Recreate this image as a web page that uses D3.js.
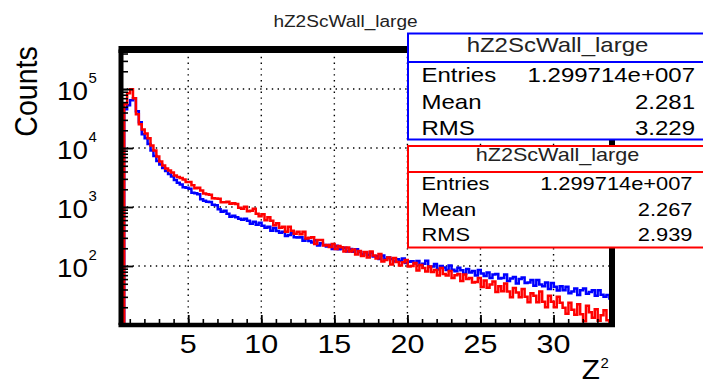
<!DOCTYPE html>
<html>
<head>
<meta charset="utf-8">
<script src="https://cdn.jsdelivr.net/npm/d3@7/dist/d3.min.js"></script>
<style>
  body { margin: 0; background: #fff; }
  svg { display: block; }
  text { font-family: "Liberation Sans", Arial, sans-serif; fill: #000; }
</style>
</head>
<body>
<script>
const width = 703;
const height = 384;

// histogram binning along Z^2
const binStart = 0.62;
const binWidth = 0.2;

// counts per bin
const countsBlue = [
  45500, 53200, 64700, 70000, 42000, 27300, 17060, 14580, 11750, 9100,
  7330, 6030, 5260, 4580, 4070, 3620, 3280, 2860, 2590, 2400,
  2170, 2130, 2050, 1750, 1720, 1650, 1360, 1280, 1230, 1220,
  1095, 1073, 917, 832, 865, 769, 684, 711, 670, 632,
  608, 630, 584, 520, 562, 499, 540, 480, 444, 462,
  395, 440, 392, 365, 380, 324, 337, 358, 306, 304,
  308, 267, 288, 265, 251, 272, 223, 242, 228, 215,
  226, 195, 221, 193, 199, 203, 177, 195, 175, 193,
  173, 157, 171, 154, 170, 145, 148, 132, 151, 131,
  140, 132, 119, 130, 122, 134, 112, 118, 121, 110,
  122, 104, 109, 123, 96, 98, 108, 87.2, 100, 94.3,
  85.5, 102, 86, 81.2, 93.2, 84.8, 74.2, 88.9, 77.5, 82.2,
  68.9, 85.5, 74.5, 67.6, 77.5, 62.5, 71.7, 73.1, 61.2, 62.5,
  71.7, 55.5, 61.2, 65, 50.3, 60, 63.7, 51.3, 52.4, 57.7,
  46.5, 57.7, 48.4, 45.6, 52.4, 40.6, 51.3, 44.7, 38.3, 45.6,
  39, 44.7, 34.7, 36.8, 41.4, 32.1, 39, 41.4, 34, 36.1,
  39, 31.4, 39, 32.7, 30.2, 32.1, 28
];
const countsRed = [
  55300, 85100, 99600, 70000, 37300, 25200, 20700, 17700, 14600, 11070,
  9100, 7190, 5910, 5060, 4490, 4150, 3840, 3410, 3220, 3100,
  2920, 2650, 2650, 2350, 2090, 2130, 1900, 1690, 1650, 1620,
  1410, 1400, 1380, 1210, 1200, 1230, 1140, 1160, 1130, 973,
  935, 1012, 848, 865, 935, 769, 697, 754, 596, 670,
  584, 490, 530, 444, 462, 380, 462, 395, 351, 380,
  344, 380, 294, 300, 306, 237, 277, 275, 223, 228,
  211, 237, 195, 219, 207, 177, 205, 176, 191, 157,
  180, 148, 173, 140, 177, 151, 134, 160, 119, 126,
  140, 106, 137, 117, 102, 116, 126, 98, 100, 112,
  83.8, 104, 92.4, 80.6, 98, 79, 85.5, 68.9, 92.4, 73.1,
  69, 82.2, 62.5, 70, 73, 55.5, 71.7, 60, 62.5, 52.4,
  53.4, 62.5, 43.9, 56.6, 43, 48.4, 54.5, 36.1, 45.6, 37.5,
  50.3, 36.8, 29.6, 42.2, 35.4, 29.6, 40.6, 30.2, 24.4, 34.7,
  31.4, 24.4, 36.8, 24.8, 20, 31.4, 24.8, 20, 30.2, 23.9,
  19.6, 15.5, 23.9, 18.2, 14.9, 22.5, 15.2, 11.6, 21.2, 16.4,
  13.3, 18.5, 11.8, 14.6, 17.8, 12, 11.1
];

const xTicks = [5, 10, 15, 20, 25, 30];
const yDecades = [100, 1000, 10000, 100000];
const yExponents = ["2", "3", "4", "5"];

const histName = "hZ2ScWall_large";
const statLabels = ["Entries", "Mean", "RMS"];
const statsBlue = ["1.299714e+007", "2.281", "3.229"];
const statsRed = ["1.299714e+007", "2.267", "2.939"];

const plot = { left: 121, right: 612, top: 49.5, bottom: 325 };

const svg = d3.select("body")
  .append("svg")
  .attr("width", width)
  .attr("height", height);

svg.append("rect")
  .attr("width", width)
  .attr("height", height)
  .attr("fill", "#fff");

const x = d3.scaleLinear().domain([0.4, 34]).range([plot.left, plot.right]);
const y = d3.scaleLog().domain([10, 4.68e5]).range([plot.bottom, plot.top]);

// text stretched sideways like the picture
function stext(parent, px, py, str, size, anchor, sx) {
  return parent.append("text")
    .attr("transform", `translate(${px},${py}) scale(${sx},1)`)
    .attr("font-size", size)
    .attr("text-anchor", anchor)
    .text(str);
}

// grid
const grid = svg.append("g")
  .attr("stroke", "#000")
  .attr("stroke-width", 1.4)
  .attr("stroke-dasharray", "1.4,4.4");
grid.selectAll(".gx")
  .data(xTicks)
  .enter()
  .append("line")
  .attr("x1", d => x(d)).attr("x2", d => x(d))
  .attr("y1", plot.bottom).attr("y2", plot.top);
grid.selectAll(".gy")
  .data(yDecades)
  .enter()
  .append("line")
  .attr("x1", plot.left).attr("x2", plot.right)
  .attr("y1", d => y(d)).attr("y2", d => y(d));

// histograms
svg.append("defs")
  .append("clipPath").attr("id", "plotclip")
  .append("rect")
  .attr("x", plot.left).attr("y", plot.top)
  .attr("width", plot.right - plot.left)
  .attr("height", plot.bottom - plot.top);

const ymin = y.domain()[0];
function histPoints(counts) {
  const pts = [[binStart, ymin]];
  counts.forEach((c, i) => pts.push([binStart + i * binWidth, c]));
  const lastEdge = binStart + counts.length * binWidth;
  pts.push([lastEdge, counts[counts.length - 1]]);
  pts.push([lastEdge, ymin]);
  return pts;
}
const stepLine = d3.line()
  .x(d => x(d[0]))
  .y(d => y(d[1]))
  .curve(d3.curveStepAfter);

const hists = svg.append("g").attr("clip-path", "url(#plotclip)");
hists.append("path")
  .attr("d", stepLine(histPoints(countsBlue)))
  .attr("fill", "none")
  .attr("stroke", "#0000ff")
  .attr("stroke-width", 2.5);
hists.append("path")
  .attr("d", stepLine(histPoints(countsRed)))
  .attr("fill", "none")
  .attr("stroke", "#ff0000")
  .attr("stroke-width", 2.5);

// ticks (inside the frame)
svg.append("g")
  .attr("transform", `translate(${plot.left},0)`)
  .call(d3.axisLeft(y).tickValues(y.ticks()).tickSizeInner(-7).tickSizeOuter(0).tickFormat(""))
  .call(g => g.select(".domain").remove())
  .call(g => g.selectAll("line").attr("stroke-width", 1.6));
svg.append("g")
  .attr("transform", `translate(${plot.left},0)`)
  .call(d3.axisLeft(y).tickValues(yDecades).tickSizeInner(-12).tickSizeOuter(0).tickFormat(""))
  .call(g => g.select(".domain").remove())
  .call(g => g.selectAll("line").attr("stroke-width", 1.8));
svg.append("g")
  .attr("transform", `translate(0,${plot.bottom})`)
  .call(d3.axisBottom(x).tickValues(d3.range(1, 34)).tickSizeInner(-6).tickSizeOuter(0).tickFormat(""))
  .call(g => g.select(".domain").remove())
  .call(g => g.selectAll("line").attr("stroke-width", 1.6));
svg.append("g")
  .attr("transform", `translate(0,${plot.bottom})`)
  .call(d3.axisBottom(x).tickValues(xTicks).tickSizeInner(-10).tickSizeOuter(0).tickFormat(""))
  .call(g => g.select(".domain").remove())
  .call(g => g.selectAll("line").attr("stroke-width", 1.8));

// frame
const frame = svg.append("g").attr("stroke", "#000");
frame.append("line").attr("x1", plot.left - 2.5).attr("x2", plot.right + 3)
  .attr("y1", plot.top).attr("y2", plot.top).attr("stroke-width", 7);
frame.append("line").attr("x1", plot.left - 2.5).attr("x2", plot.right + 3)
  .attr("y1", plot.bottom).attr("y2", plot.bottom).attr("stroke-width", 4.5);
frame.append("line").attr("x1", plot.left).attr("x2", plot.left)
  .attr("y1", plot.top).attr("y2", plot.bottom).attr("stroke-width", 5);
frame.append("line").attr("x1", plot.right).attr("x2", plot.right)
  .attr("y1", plot.top).attr("y2", plot.bottom).attr("stroke-width", 6);

// tick labels
yDecades.forEach((d, i) => {
  stext(svg, 88, y(d) + 10.5, "10", 26, "end", 1.07);
  stext(svg, 88.5, y(d) - 6, yExponents[i], 14, "start", 1.07);
});
xTicks.forEach(d => {
  stext(svg, x(d), 352.5, String(d), 25, "middle", 1.22);
});

// axis titles
svg.append("text")
  .attr("transform", "translate(36.5,91.5) scale(1.07,1) rotate(-90)")
  .attr("font-size", 28.5)
  .attr("text-anchor", "middle")
  .text("Counts");
stext(svg, 600, 378.5, "Z", 27, "end", 1.1);
stext(svg, 600.5, 367.5, "2", 14, "start", 1.07);

// title
stext(svg, 345.5, 27, histName, 16, "middle", 1.19).style("fill", "#222");

// stat boxes
function statBox(top, sepY, bottom, color, headerSize, headerBase, rowSize, rowBases, valueRight, values) {
  const g = svg.append("g");
  g.append("rect")
    .attr("x", 408).attr("y", top)
    .attr("width", 310).attr("height", bottom - top)
    .attr("fill", "#fff")
    .attr("stroke", color)
    .attr("stroke-width", 2);
  g.append("line")
    .attr("x1", 408).attr("x2", 710)
    .attr("y1", sepY).attr("y2", sepY)
    .attr("stroke", color)
    .attr("stroke-width", 2);
  stext(g, 557.5, headerBase, histName, headerSize, "middle", 1.2).style("fill", "#222");
  statLabels.forEach((lab, i) => {
    stext(g, 421.5, rowBases[i], lab, rowSize, "start", 1.2);
    stext(g, valueRight, rowBases[i], values[i], rowSize, "end", 1.2);
  });
}
statBox(33.5, 62, 139.5, "#0000ff", 20, 52, 20, [82, 108.5, 135], 695, statsBlue);
statBox(146, 172, 247.5, "#ff0000", 18, 161, 18.2, [190, 215.5, 240.5], 692.5, statsRed);
</script>
</body>
</html>
